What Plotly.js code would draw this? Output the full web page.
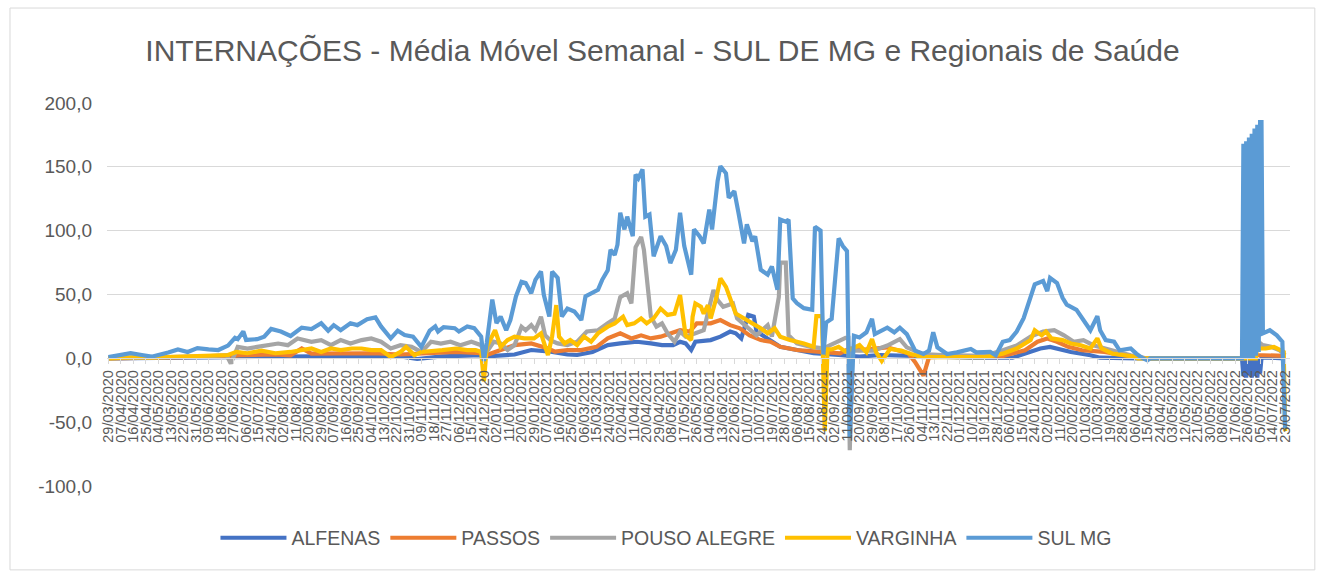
<!DOCTYPE html>
<html>
<head>
<meta charset="utf-8">
<script src="https://cdn.plot.ly/plotly-3.0.1.min.js"></script>
<style>
html,body{margin:0;padding:0;background:#fff;}
#chart{width:1325px;height:572px;}
</style>
</head>
<body>
<div id="chart"></div>
<script>
// ---- tick labels ----
const tickLabels = ["29/03/2020","07/04/2020","16/04/2020","25/04/2020","04/05/2020","13/05/2020","22/05/2020","31/05/2020","09/06/2020","18/06/2020","27/06/2020","06/07/2020","15/07/2020","24/07/2020","02/08/2020","11/08/2020","20/08/2020","29/08/2020","07/09/2020","16/09/2020","25/09/2020","04/10/2020","13/10/2020","22/10/2020","31/10/2020","09/11/2020","18/11/2020","27/11/2020","06/12/2020","15/12/2020","24/12/2020","02/01/2021","11/01/2021","20/01/2021","29/01/2021","07/02/2021","16/02/2021","25/02/2021","06/03/2021","15/03/2021","24/03/2021","02/04/2021","11/04/2021","20/04/2021","29/04/2021","08/05/2021","17/05/2021","26/05/2021","04/06/2021","13/06/2021","22/06/2021","01/07/2021","10/07/2021","19/07/2021","28/07/2021","06/08/2021","15/08/2021","24/08/2021","02/09/2021","11/09/2021","20/09/2021","29/09/2021","08/10/2021","17/10/2021","26/10/2021","04/11/2021","13/11/2021","22/11/2021","01/12/2021","10/12/2021","19/12/2021","28/12/2021","06/01/2022","15/01/2022","24/01/2022","02/02/2022","11/02/2022","20/02/2022","01/03/2022","10/03/2022","19/03/2022","28/03/2022","06/04/2022","15/04/2022","24/04/2022","03/05/2022","12/05/2022","21/05/2022","30/05/2022","08/06/2022","17/06/2022","26/06/2022","05/07/2022","14/07/2022","23/07/2022"];
const yTickVals = [-100,-50,0,50,100,150,200];
const yTickText = ["-100,0","-50,0","0,0","50,0","100,0","150,0","200,0"];

// ---- series: day offset from 29/03/2020 and value ----
const alfenasDays = [0,30,60,86,100,130,160,190,210,222,240,260,268,272,282,292,304,318,330,337,348,359,368,380,390,398,406,411,415,419,422,433,440,447,451,455,460,464,466,474,483,495,507,525,540,555,570,590,620,650,659,670,677,686,692,706,713,740,815,816,817,818,819,820,821,822,823,824,825,826,827,828,829,835,846];
const alfenasVals = [0,0.3,0.5,1,1.5,1.5,2,2,1.5,-0.5,1.5,2,2.5,1.5,2.5,3,6.5,5.2,3,2.6,5,10.4,11.7,13,11.7,10.4,10.4,13,11.7,6.5,13,14.3,17,21,19.6,15.6,34,32.6,21,15.6,9,6.5,4,2.6,1.3,2.6,2,1,0.5,0.5,3.7,7.7,9,6.3,5,2.4,0.5,0,0,-14,0,-15,0,-13,0,-15,0,-14,0,-15,0,-12,0.5,0.5,0];

const passosDays = [0,30,60,86,95,120,131,139,146,170,190,210,230,250,268,272,282,292,304,316,321,330,340,351,359,368,376,383,390,397,411,418,423,433,440,447,454,461,469,476,483,495,510,526,533,540,560,575,580,586,590,610,640,659,668,675,682,690,700,716,730,740,746,815,817,830,846];
const passosVals = [0,0.5,1,1.5,2.5,3,2.4,7.7,3.7,3.7,4,3,3.7,5,4,2.6,6.5,10.4,11.7,7.8,5.2,6.5,6.5,9,15.6,19.6,15.6,18,15.6,17,22,21,27.4,27.4,30,26,23.5,18,14.3,13,9,6.5,5.2,3.9,7.8,6.5,8.6,4,-3,-13.6,1,1.5,1,6.3,13,15.6,13,9,6.3,5,2.4,0.5,0,0,2.4,2.4,2];

const pousoDays = [0,40,70,85,88,93,100,107,115,122,129,136,146,153,160,167,174,182,189,196,203,210,218,225,232,239,246,253,261,268,270,273,277,282,287,292,297,300,304,307,311,314,318,323,330,337,344,352,359,364,368,373,376,379,383,385,388,390,394,398,402,407,411,415,422,428,435,438,442,449,452,459,466,474,477,482,483,487,489,495,505,514,524,530,532,533,535,540,550,560,569,574,585,600,630,643,653,663,672,680,687,694,701,708,716,726,735,742,746,815,816,817,818,819,820,821,822,823,824,825,826,827,828,829,830,836,842,846];
const pousoVals = [0,0.5,1.5,2.4,-4,9,7.7,9,10.3,11.6,10.3,15.6,13,14.3,10.3,14.3,11.6,14.3,15.6,13,7.7,10.3,9,5,13,11.6,13,10.3,13,10.3,3,6.5,13,11.7,6.5,10.4,24.8,22,26,22,32.6,18,14,11.7,10.4,13,21,22,27.4,31,48,51,43,87,95,85,53.5,32.6,24.8,27.4,19.6,13,21,17,19.6,22,53.5,45.6,40.4,43,31.3,24.8,18,26,17,48,75,75,18,11.7,9,7.8,13,16,16,-72,6,6,6,10,15,8.6,3.4,2.5,2,6.3,10,17,21,22,18,13,14.3,10.3,7.7,5,2.4,0.5,0,0,14,0,14,0,13,0,14,0,14,3,14,8,12,11,10.3,9,6.3,2.4];

const varginhaDays = [0,20,30,50,70,86,92,100,110,120,131,139,146,153,160,167,175,182,189,196,203,210,214,220,225,240,250,258,264,268,270,272,278,282,287,292,299,306,311,316,319,322,324,328,332,337,342,347,352,359,364,370,373,378,383,387,392,397,402,407,411,415,419,420,422,426,428,431,433,437,440,444,448,451,455,459,464,469,474,479,483,490,500,507,509,513,515,517,520,525,530,536,540,545,549,552,556,562,570,577,585,600,630,643,653,663,666,671,674,678,686,692,699,706,711,714,722,736,740,815,825,826,827,832,838,843,845,846];
const varginhaVals = [0,1,0.5,1,1.6,2.6,5,4,6,4,5,6.4,7.7,5,7.7,6.4,7.7,7.7,6.4,6.4,1,5,9,2.4,5,6.4,7.7,6.4,6.4,5,-18,9,22,9,14.3,17,15.6,15.6,19.6,2.6,17,41.7,17,11.7,14.3,10.4,17,13,19.6,24.8,27.4,32.6,26,27.4,31.3,27.4,31.3,39,34,35,49.5,18,14.3,32.6,43,40.4,35,41.7,31.3,47,62.6,56,43,35,32.6,30,27.4,23.5,19.6,23.5,17,14.3,11.7,9,33,33,-57,7,7,9,5.2,7.8,10.4,4.7,15,4.7,-2,7.3,6,3.4,1,1,1,3.7,7.7,14.3,22,18,21,15.6,14.3,11.6,10.3,7.7,15.6,7.7,3.7,1.6,0,0,0,13,7.7,7.7,9,6.3,5,-57];

const sulDays = [0,9,16,24,31,43,50,57,64,72,79,86,91,93,97,99,107,112,117,124,131,139,146,153,158,162,167,174,179,186,192,196,203,208,213,219,225,231,235,237,241,249,252,258,263,268,270,272,276,279,282,286,289,293,297,300,304,307,311,313,317,319,323,326,330,335,340,343,347,352,355,359,361,364,366,368,371,373,377,379,381,384,386,389,392,397,401,404,408,411,414,419,421,425,428,432,434,438,440,444,446,450,453,457,459,463,465,469,474,477,481,483,487,489,492,495,500,506,508,512,514,516,520,525,528,531,533,536,540,545,549,551,560,565,569,574,580,586,590,593,596,603,610,620,624,634,638,643,648,653,658,662,666,672,675,677,682,686,689,696,701,706,711,713,717,723,727,735,739,743,747,749,815,816,817,818,819,820,821,822,823,824,825,826,827,828,829,830,835,840,844,846];
const sulVals = [1,2.6,4,2.6,1.3,4.5,7,5,8,7,6.5,10,16,15,21,14.4,15,17,23,21,17.5,24,23,27.5,21.7,26,22,27.5,26,30.6,32,25,15.7,21.7,18.3,17,9,21.7,25,21,24.4,23.6,21,25,23.6,17,-2,12,46,27.5,32.7,22,30,48.5,60,59,51,61.5,68,50,32.7,68,63,32.7,39,36.7,30,48.5,50.5,53.7,61.5,69,85,81,89,114,101,111,95.6,144,141,148,111,112.6,80,95.6,88,74.6,85,114,88,65.5,101,95.6,90,116.5,101,139,150.5,145,125.7,131,114,90,105,91.7,95.6,69.4,65.5,72,53.7,108.7,107,108.7,47,43.2,39.3,38,103,100,3,28,31,94,88,84,-62,17.7,16.4,20.4,31,19,24,20.4,24,19,6,3.4,6,20.4,8.6,3.4,4.7,7.3,4.7,5,2.4,13,14.3,21,31.5,46,58,60.6,52.6,63,59,47.4,42,38,30,22,33,22,14.3,13,6.3,7.7,3.7,0.5,-1.6,0,0,168,0,170,0,173,0,176,0,180,2,183,5,185,185,19.6,22,18,13,-55];

// ---- build ----
const start = Date.UTC(2020,2,29);
const tickVals = tickLabels.map(s => { const [d,m,y] = s.split('/').map(Number); return Math.round((Date.UTC(y,m-1,d)-start)/86400000); });

const series = [
  {name:'ALFENAS', x:alfenasDays, y:alfenasVals, color:'#4472C4'},
  {name:'PASSOS', x:passosDays, y:passosVals, color:'#ED7D31'},
  {name:'POUSO ALEGRE', x:pousoDays, y:pousoVals, color:'#A5A5A5'},
  {name:'VARGINHA', x:varginhaDays, y:varginhaVals, color:'#FFC000'},
  {name:'SUL MG', x:sulDays, y:sulVals, color:'#5B9BD5'}
];
const traces = series.map(s => ({
  type:'scatter', mode:'lines', name:s.name, x:s.x, y:s.y,
  line:{color:s.color, width:4.2}, hoverinfo:'x+y'
}));

const fontFam = 'Liberation Sans, Arial, sans-serif';
const layout = {
  width:1325, height:572,
  margin:{l:107, r:35, t:103, b:86},
  paper_bgcolor:'#ffffff', plot_bgcolor:'#ffffff',
  showlegend:true,
  title:{text:'INTERNAÇÕES - Média Móvel Semanal - SUL DE MG e Regionais de Saúde',
    font:{family:fontFam, size:30, color:'#595959'}, x:0.5, xanchor:'center', y:0.912, yanchor:'middle'},
  xaxis:{
    type:'linear', range:[-1,849.5],
    tickvals:tickVals, ticktext:tickLabels, tickangle:-90,
    tickfont:{family:fontFam, size:14.5, color:'#595959'},
    showgrid:false, zeroline:false,
    showline:true, linecolor:'#D9D9D9', linewidth:1,
    ticks:'outside', ticklen:5, tickcolor:'#D9D9D9',
    anchor:'free', position:1/3
  },
  yaxis:{
    range:[-100,200], tickvals:yTickVals, ticktext:yTickText,
    tickfont:{family:fontFam, size:19, color:'#595959'},
    showgrid:true, gridcolor:'#D9D9D9', gridwidth:1,
    zeroline:false, showline:false, ticks:'', ticklabelstandoff:14
  },
  legend:{orientation:'h', x:0.4725, xanchor:'center', y:-0.136, yanchor:'middle',
    font:{family:fontFam, size:19.5, color:'#595959'}, itemwidth:66, traceorder:'normal'},
  shapes:[{type:'rect', xref:'paper', yref:'paper', x0:-0.082, x1:1.021, y0:-0.219, y1:1.248,
    line:{color:'#D9D9D9', width:1}, fillcolor:'rgba(0,0,0,0)', layer:'below'}]
};

Plotly.newPlot('chart', traces, layout, {displayModeBar:false, staticPlot:true});
</script>
</body>
</html>
